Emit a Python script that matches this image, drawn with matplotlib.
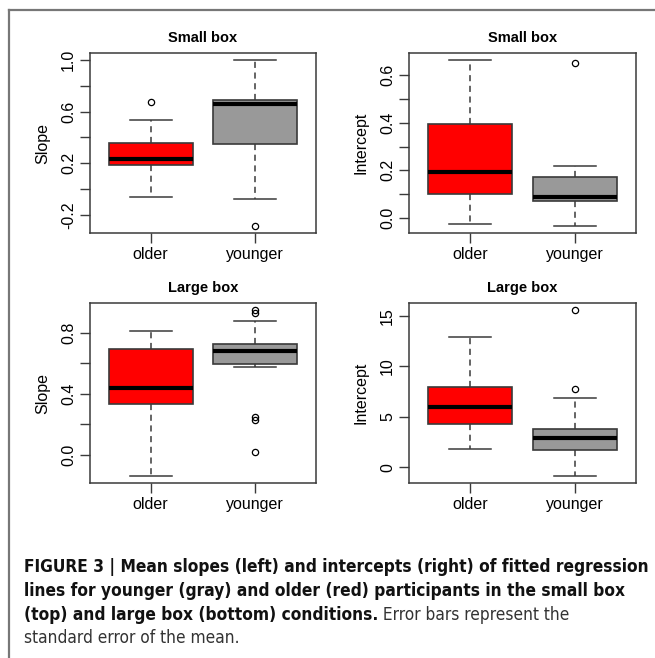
import matplotlib
matplotlib.use("Agg")
import matplotlib.pyplot as plt
from matplotlib.lines import Line2D

# Box statistics: [lower whisker, Q1, median, Q3, upper whisker]
groups = ["older", "younger"]

small_slope = [[-0.06, 0.187, 0.234, 0.36, 0.538],
               [-0.071, 0.35, 0.657, 0.688, 1.0]]
small_slope_out = [[0.67], [-0.285]]

small_icpt = [[-0.025, 0.102, 0.192, 0.395, 0.665],
              [-0.035, 0.073, 0.088, 0.172, 0.219]]
small_icpt_out = [[], [0.649]]

large_slope = [[-0.142, 0.329, 0.44, 0.691, 0.813],
               [0.575, 0.593, 0.676, 0.726, 0.876]]
large_slope_out = [[], [0.95, 0.93, 0.249, 0.225, 0.015]]

large_icpt = [[1.79, 4.27, 5.96, 7.95, 12.85],
              [-0.89, 1.75, 2.88, 3.84, 6.89]]
large_icpt_out = [[], [7.72, 15.6]]

titles = ["Small box", "Small box", "Large box", "Large box"]
ylabels = ["Slope", "Intercept", "Slope", "Intercept"]

small_slope_ticks = [-0.2, 0.0, 0.2, 0.4, 0.6, 0.8, 1.0]
small_slope_lbls = ["-0.2", "", "0.2", "", "0.6", "", "1.0"]
small_icpt_ticks = [0.0, 0.1, 0.2, 0.3, 0.4, 0.5, 0.6]
small_icpt_lbls = ["0.0", "", "0.2", "", "0.4", "", "0.6"]
large_slope_ticks = [0.0, 0.2, 0.4, 0.6, 0.8]
large_slope_lbls = ["0.0", "", "0.4", "", "0.8"]
large_icpt_ticks = [0, 5, 10, 15]
large_icpt_lbls = ["0", "5", "10", "15"]

box_colors = ["#ff0000", "#999999"]

W, H = 655, 658
fig = plt.figure(figsize=(W / 100, H / 100), dpi=100)
plt.rcParams["font.family"] = ["Liberation Sans", "DejaVu Sans"]

line_col = "#3a3a3a"


def ax_rect(left, top, right, bottom):
    return [left / W, 1 - bottom / H, (right - left) / W, (bottom - top) / H]


def draw_panel(rect, stats, outs, ticks, lbls, title, ylabel):
    ax = fig.add_axes(rect)
    bxp_stats = []
    for g, s, o in zip(groups, stats, outs):
        bxp_stats.append(dict(label=g, whislo=s[0], q1=s[1], med=s[2],
                              q3=s[3], whishi=s[4], fliers=o))
    res = ax.bxp(bxp_stats, positions=[1, 2], widths=0.8, capwidths=0.4,
                 patch_artist=True,
                 boxprops=dict(edgecolor=line_col, linewidth=1.2),
                 medianprops=dict(color="black", linewidth=3, solid_capstyle="butt"),
                 whiskerprops=dict(color=line_col, linewidth=1.1, linestyle=(0, (4, 3))),
                 capprops=dict(color=line_col, linewidth=1.1),
                 flierprops=dict(marker="o", markersize=4.5, markerfacecolor="none",
                                 markeredgecolor="black", markeredgewidth=0.9))
    for patch, c in zip(res["boxes"], box_colors):
        patch.set_facecolor(c)

    lo = min(min(s[0] for s in stats), min([v for o in outs for v in o] + [1e9]))
    hi = max(max(s[4] for s in stats), max([v for o in outs for v in o] + [-1e9]))
    pad = 0.04 * (hi - lo)
    ax.set_ylim(lo - pad, hi + pad)
    ax.set_xlim(0.42, 2.58)

    ax.set_yticks(ticks)
    ax.set_yticklabels(lbls, rotation=90, va="center")
    ax.set_xticks([1, 2])
    ax.set_xticklabels(groups)
    ax.tick_params(axis="both", direction="out", length=7, width=1.0,
                   color=line_col, labelsize=11.5, labelcolor="black")
    ax.tick_params(axis="y", pad=3)
    ax.tick_params(axis="x", pad=3)
    for sp in ax.spines.values():
        sp.set_color(line_col)
        sp.set_linewidth(1.1)
    ax.set_title(title, fontsize=10.5, fontweight="bold", pad=8)
    ax.set_ylabel(ylabel, fontsize=11.5, labelpad=8)
    return ax


draw_panel(ax_rect(90, 53, 316, 233), small_slope, small_slope_out,
           small_slope_ticks, small_slope_lbls, titles[0], ylabels[0])
draw_panel(ax_rect(409, 53, 636, 233), small_icpt, small_icpt_out,
           small_icpt_ticks, small_icpt_lbls, titles[1], ylabels[1])
draw_panel(ax_rect(90, 303, 316, 483), large_slope, large_slope_out,
           large_slope_ticks, large_slope_lbls, titles[2], ylabels[2])
draw_panel(ax_rect(409, 303, 636, 483), large_icpt, large_icpt_out,
           large_icpt_ticks, large_icpt_lbls, titles[3], ylabels[3])

# border lines (top and left)
fig.add_artist(Line2D([9 / W, 1], [1 - 10 / H, 1 - 10 / H], color="#777777", lw=1.6))
fig.add_artist(Line2D([9 / W, 9 / W], [1 - 10 / H, 0], color="#777777", lw=1.6))

# caption
cap_lines = [
    "FIGURE 3 | Mean slopes (left) and intercepts (right) of fitted regression",
    "lines for younger (gray) and older (red) participants in the small box",
    "(top) and large box (bottom) conditions.",
]
cap_rest = " Error bars represent the"
cap_last = "standard error of the mean."

cap_font = dict(family=["DejaVu Sans"], stretch="condensed")
x0 = 24 / W
baselines = [572, 596, 620, 643]

# size the caption so the first line spans the same width as in the figure
probe = fig.text(x0, 0.5, cap_lines[0], fontsize=10, fontweight="bold", **cap_font)
fig.canvas.draw()
cap_size = 10 * (646 - 24) / probe.get_window_extent().width
probe.remove()

for i, s in enumerate(cap_lines):
    t = fig.text(x0, 1 - baselines[i] / H, s, fontsize=cap_size, fontweight="bold",
                 va="baseline", ha="left", color="#111111", **cap_font)
fig.canvas.draw()
bb = t.get_window_extent()
fig.text(bb.x1 / W, 1 - baselines[2] / H, cap_rest, fontsize=cap_size,
         va="baseline", ha="left", color="#333333", **cap_font)
fig.text(x0, 1 - baselines[3] / H, cap_last, fontsize=cap_size,
         va="baseline", ha="left", color="#333333", **cap_font)

fig.savefig("out.png", dpi=100)
